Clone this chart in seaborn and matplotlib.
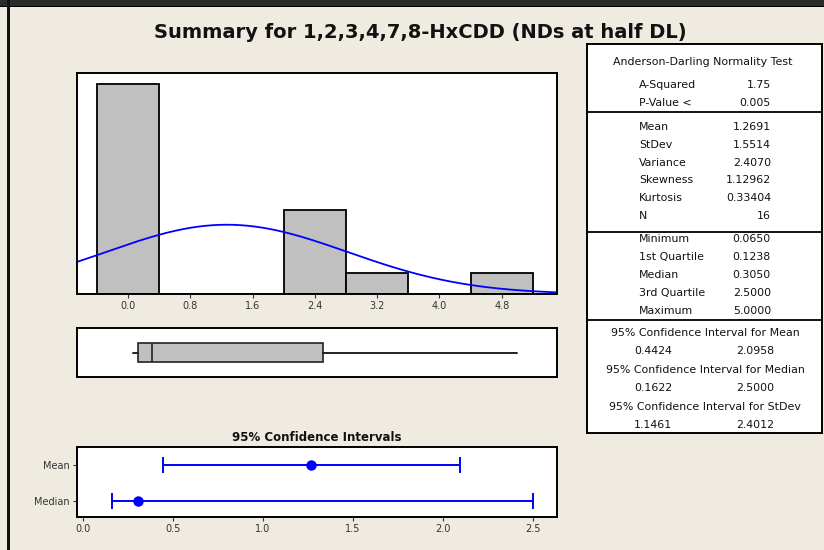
import numpy as np
import matplotlib
matplotlib.use("Agg")
import matplotlib.pyplot as plt
import seaborn as sns
from matplotlib.patches import Rectangle

sns.set_style("white")
plt.rcParams['font.family'] = ['DejaVu Sans']

# ---- data ----
title = "Summary for 1,2,3,4,7,8-HxCDD (NDs at half DL)"
bin_centers = [0.0, 0.8, 1.6, 2.4, 3.2, 4.0, 4.8]
bin_counts = [10, 0, 0, 4, 1, 0, 1]
hist_ticks = [0.0, 0.8, 1.6, 2.4, 3.2, 4.0, 4.8]
bin_width = 0.8

mean_val = 1.2691
stdev_val = 1.5514
n_obs = 16
five_num = {"min": 0.0650, "q1": 0.1238, "median": 0.3050, "q3": 2.5000, "max": 5.0000}

ci_labels = ["Mean", "Median"]
ci_centers = [1.2691, 0.3050]
ci_low = [0.4424, 0.1622]
ci_high = [2.0958, 2.5000]
ci_ticks = [0.0, 0.5, 1.0, 1.5, 2.0, 2.5]

ad_rows = [("A-Squared", "1.75"), ("P-Value <", "0.005")]
desc_rows = [("Mean", "1.2691"), ("StDev", "1.5514"), ("Variance", "2.4070"),
             ("Skewness", "1.12962"), ("Kurtosis", "0.33404"), ("N", "16")]
quant_rows = [("Minimum", "0.0650"), ("1st Quartile", "0.1238"), ("Median", "0.3050"),
              ("3rd Quartile", "2.5000"), ("Maximum", "5.0000")]
ci_rows = [("95% Confidence Interval for Mean", "0.4424", "2.0958"),
           ("95% Confidence Interval for Median", "0.1622", "2.5000"),
           ("95% Confidence Interval for StDev", "1.1461", "2.4012")]

# ---- figure ----
W, H = 824, 550
BG = "#EFEBE1"
fig = plt.figure(figsize=(W / 100, H / 100), dpi=100, facecolor=BG)

def px_axes(left, top, right, bottom):
    return fig.add_axes([left / W, 1 - bottom / H, (right - left) / W, (bottom - top) / H])

# dark frame at top and left
fig.patches.append(Rectangle((0, 1 - 6 / H), 1, 6 / H, transform=fig.transFigure,
                             facecolor="#2b2b2b", edgecolor="none", zorder=0))
fig.patches.append(Rectangle((0, 1 - 7 / H), 1, 1.5 / H, transform=fig.transFigure,
                             facecolor="#000000", edgecolor="none", zorder=0))
fig.patches.append(Rectangle((7 / W, 0), 2.5 / W, 1, transform=fig.transFigure,
                             facecolor="#111111", edgecolor="none", zorder=0))

fig.text(420 / W, 1 - 32 / H, title, ha="center", va="center", fontsize=14,
         fontweight="bold", color="#111111")

tick_color = "#333333"

def style_spines(ax):
    for s in ax.spines.values():
        s.set_visible(True)
        s.set_color("black")
        s.set_linewidth(1.4)
    ax.set_facecolor("white")

# ---- histogram ----
axh = px_axes(77, 73, 557, 294)
style_spines(axh)
edges = [c - bin_width / 2 for c in bin_centers] + [bin_centers[-1] + bin_width / 2]
sns.histplot(x=bin_centers, weights=bin_counts, bins=edges, ax=axh,
             color="#C0C0C0", edgecolor="black", linewidth=1.3, alpha=1.0)
xlim_h = (-0.655, 5.51)
xs = np.linspace(xlim_h[0], xlim_h[1], 400)
dens = n_obs * bin_width / (stdev_val * np.sqrt(2 * np.pi)) * np.exp(-0.5 * ((xs - mean_val) / stdev_val) ** 2)
sns.lineplot(x=xs, y=dens, ax=axh, color="#0000FF", linewidth=1.3)
axh.set_xlim(*xlim_h)
axh.set_ylim(0, 10.5)
axh.set_xticks(hist_ticks)
axh.set_xticklabels([f"{t:.1f}" for t in hist_ticks])
axh.set_yticks([])
axh.set_xlabel("")
axh.set_ylabel("")
axh.tick_params(axis="x", bottom=True, length=3, width=0.8, color=tick_color,
                labelsize=7, labelcolor=tick_color, pad=2)

# ---- boxplot ----
axb = px_axes(77, 328, 557, 377)
style_spines(axb)
stats = [{"whislo": five_num["min"], "q1": five_num["q1"], "med": five_num["median"],
          "q3": five_num["q3"], "whishi": five_num["max"], "fliers": []}]
axb.bxp(stats, positions=[0], widths=0.74, vert=False, showcaps=False, patch_artist=True,
        boxprops=dict(facecolor="#C0C0C0", edgecolor="#222222", linewidth=1.2),
        medianprops=dict(color="#222222", linewidth=1.2),
        whiskerprops=dict(color="#222222", linewidth=1.4))
axb.set_xlim(*xlim_h)
axb.set_ylim(-1, 1)
axb.set_xticks([])
axb.set_yticks([])

# ---- CI panel ----
axc = px_axes(77, 447, 557, 517)
style_spines(axc)
ypos = [1, 0]
for y, c, lo, hi in zip(ypos, ci_centers, ci_low, ci_high):
    axc.errorbar([c], [y], xerr=[[c - lo], [hi - c]], fmt="o", color="#0000FF",
                 ecolor="#0000FF", elinewidth=1.4, capsize=5.5, capthick=1.4,
                 markersize=6.5)
axc.set_xlim(-0.033, 2.633)
axc.set_ylim(-0.44, 1.5)
axc.set_xticks(ci_ticks)
axc.set_xticklabels([f"{t:.1f}" for t in ci_ticks])
axc.set_yticks(ypos)
axc.set_yticklabels(ci_labels)
axc.tick_params(axis="both", bottom=True, left=True, length=3, width=0.8, color=tick_color,
                labelsize=7, labelcolor=tick_color, pad=2)
axc.set_title("95% Confidence Intervals", fontsize=8.5, fontweight="bold",
              color="#111111", pad=4)

# ---- stats table ----
axt = px_axes(587, 44, 822, 433)
axt.set_xlim(0, 235)
axt.set_ylim(389, 0)
axt.set_xticks([])
axt.set_yticks([])
axt.set_facecolor("white")
for s in axt.spines.values():
    s.set_color("black")
    s.set_linewidth(1.4)
for yl in (68, 188, 276):
    axt.axhline(yl, color="black", linewidth=1.3)

fs = 7.9
tc = "#111111"
axt.text(116, 18, "Anderson-Darling Normality Test", ha="center", va="center", fontsize=fs, color=tc)
def rows(items, y0, dy):
    for i, (lab, val) in enumerate(items):
        y = y0 + i * dy
        axt.text(52, y, lab, ha="left", va="center", fontsize=fs, color=tc)
        axt.text(184, y, val, ha="right", va="center", fontsize=fs, color=tc)
rows(ad_rows, 41, 17.5)
rows(desc_rows, 83, 17.8)
rows(quant_rows, 195, 18)
for i, (lab, lo, hi) in enumerate(ci_rows):
    y = 289 + i * 37
    axt.text(118, y, lab, ha="center", va="center", fontsize=fs, color=tc)
    axt.text(66, y + 18, lo, ha="center", va="center", fontsize=fs, color=tc)
    axt.text(168, y + 18, hi, ha="center", va="center", fontsize=fs, color=tc)

fig.savefig("out.png", dpi=100, facecolor=BG)
